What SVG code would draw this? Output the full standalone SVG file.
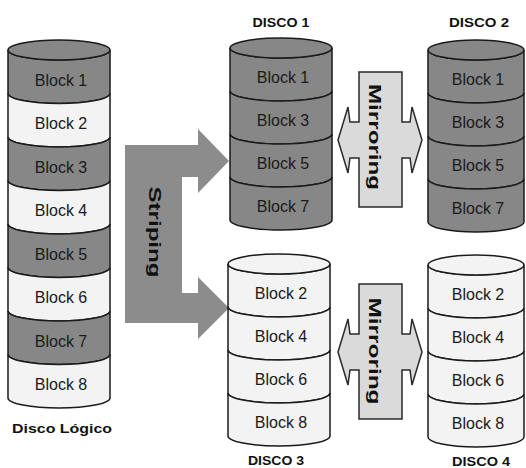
<svg xmlns="http://www.w3.org/2000/svg" width="526" height="468" viewBox="0 0 526 468">
<style>
.seg{stroke:#1a1a1a;stroke-width:1.5}
.dark{fill:#878787}
.light{fill:#f3f3f3}
.blk{font-family:"Liberation Sans",Arial,sans-serif;font-size:16px;fill:#1a1a1a;text-anchor:middle}
.lbl{font-family:"Liberation Sans",Arial,sans-serif;font-weight:bold;font-size:12.5px;fill:#111;text-anchor:middle}
.vt{font-family:"Liberation Sans",Arial,sans-serif;font-weight:bold;font-size:17px;fill:#111;text-anchor:middle}
.mir{fill:#dadada;stroke:#2a2a2a;stroke-width:1.5;stroke-linejoin:miter}
</style>
<rect width="526" height="468" fill="#ffffff"/>

<g id="connectors">
  <g id="striping">
    <path d="M125,145 H198 V129 L229,161 L198,193 V177 H182 V293 H198 V277 L229,308 L198,339 V323 H125 Z" fill="#8c8c8c"/>
    <text class="vt" transform="translate(155,232) rotate(90)" x="0" y="6" textLength="91" lengthAdjust="spacingAndGlyphs">Striping</text>
  </g>
  <g id="mirroring1">
    <path class="mir" d="M359,72 H402 V122 H410 L412,107 L422,140 L412,173 L410,158 H402 V207 H359 V158 H350 L348,173 L338,140 L348,107 L350,122 H359 Z"/>
    <text class="vt" transform="translate(375,137) rotate(90)" x="0" y="6" textLength="106" lengthAdjust="spacingAndGlyphs">Mirroring</text>
  </g>
  <g id="mirroring2">
    <path class="mir" d="M359,284 H402 V334 H410 L412,319 L422,352 L412,385 L410,370 H402 V419 H359 V370 H350 L348,385 L338,352 L348,319 L350,334 H359 Z"/>
    <text class="vt" transform="translate(375,351) rotate(90)" x="0" y="6" textLength="107" lengthAdjust="spacingAndGlyphs">Mirroring</text>
  </g>
</g>

<g id="disco-logico">
  <path class="seg dark" d="M8,50 A51,10 0 0 0 110,50 V93.5 A51,10 0 0 1 8,93.5 Z"/>
  <path class="seg light" d="M8,93.5 A51,10 0 0 0 110,93.5 V137 A51,10 0 0 1 8,137 Z"/>
  <path class="seg dark" d="M8,137 A51,10 0 0 0 110,137 V180.5 A51,10 0 0 1 8,180.5 Z"/>
  <path class="seg light" d="M8,180.5 A51,10 0 0 0 110,180.5 V224 A51,10 0 0 1 8,224 Z"/>
  <path class="seg dark" d="M8,224 A51,10 0 0 0 110,224 V267.5 A51,10 0 0 1 8,267.5 Z"/>
  <path class="seg light" d="M8,267.5 A51,10 0 0 0 110,267.5 V311 A51,10 0 0 1 8,311 Z"/>
  <path class="seg dark" d="M8,311 A51,10 0 0 0 110,311 V354.5 A51,10 0 0 1 8,354.5 Z"/>
  <path class="seg light" d="M8,354.5 A51,10 0 0 0 110,354.5 V398 A51,10 0 0 1 8,398 Z"/>
  <ellipse class="seg dark" cx="59" cy="50" rx="51" ry="10"/>
  <text class="blk" x="61" y="85.5">Block 1</text>
  <text class="blk" x="61" y="129">Block 2</text>
  <text class="blk" x="61" y="172.5">Block 3</text>
  <text class="blk" x="61" y="216">Block 4</text>
  <text class="blk" x="61" y="259.5">Block 5</text>
  <text class="blk" x="61" y="303">Block 6</text>
  <text class="blk" x="61" y="346.5">Block 7</text>
  <text class="blk" x="61" y="390">Block 8</text>
  <text class="lbl" x="62" y="433" font-size="14" textLength="100" lengthAdjust="spacingAndGlyphs">Disco Lógico</text>
</g>

<g id="disco1">
  <text class="lbl" x="281" y="27" textLength="57" lengthAdjust="spacingAndGlyphs">DISCO 1</text>
  <path class="seg dark" d="M230,48 A51,10 0 0 0 332,48 V91 A51,10 0 0 1 230,91 Z"/>
  <path class="seg dark" d="M230,91 A51,10 0 0 0 332,91 V134 A51,10 0 0 1 230,134 Z"/>
  <path class="seg dark" d="M230,134 A51,10 0 0 0 332,134 V177 A51,10 0 0 1 230,177 Z"/>
  <path class="seg dark" d="M230,177 A51,10 0 0 0 332,177 V220 A51,10 0 0 1 230,220 Z"/>
  <ellipse class="seg dark" cx="281" cy="48" rx="51" ry="10"/>
  <text class="blk" x="283" y="83">Block 1</text>
  <text class="blk" x="283" y="126">Block 3</text>
  <text class="blk" x="283" y="169">Block 5</text>
  <text class="blk" x="283" y="212">Block 7</text>
</g>

<g id="disco2">
  <text class="lbl" x="479" y="27" textLength="60" lengthAdjust="spacingAndGlyphs">DISCO 2</text>
  <path class="seg dark" d="M428,50 A48,10 0 0 0 524,50 V93 A48,10 0 0 1 428,93 Z"/>
  <path class="seg dark" d="M428,93 A48,10 0 0 0 524,93 V136 A48,10 0 0 1 428,136 Z"/>
  <path class="seg dark" d="M428,136 A48,10 0 0 0 524,136 V179 A48,10 0 0 1 428,179 Z"/>
  <path class="seg dark" d="M428,179 A48,10 0 0 0 524,179 V222 A48,10 0 0 1 428,222 Z"/>
  <ellipse class="seg dark" cx="476" cy="50" rx="48" ry="10"/>
  <text class="blk" x="478" y="85">Block 1</text>
  <text class="blk" x="478" y="128">Block 3</text>
  <text class="blk" x="478" y="171">Block 5</text>
  <text class="blk" x="478" y="214">Block 7</text>
</g>

<g id="disco3">
  <path class="seg light" d="M228,264 A51,10 0 0 0 330,264 V307 A51,10 0 0 1 228,307 Z"/>
  <path class="seg light" d="M228,307 A51,10 0 0 0 330,307 V350 A51,10 0 0 1 228,350 Z"/>
  <path class="seg light" d="M228,350 A51,10 0 0 0 330,350 V393 A51,10 0 0 1 228,393 Z"/>
  <path class="seg light" d="M228,393 A51,10 0 0 0 330,393 V436 A51,10 0 0 1 228,436 Z"/>
  <ellipse class="seg light" cx="279" cy="264" rx="51" ry="10"/>
  <text class="blk" x="281" y="299">Block 2</text>
  <text class="blk" x="281" y="342">Block 4</text>
  <text class="blk" x="281" y="385">Block 6</text>
  <text class="blk" x="281" y="428">Block 8</text>
  <text class="lbl" x="276" y="465" textLength="56" lengthAdjust="spacingAndGlyphs">DISCO 3</text>
</g>

<g id="disco4">
  <path class="seg light" d="M428,265 A48,10 0 0 0 524,265 V308 A48,10 0 0 1 428,308 Z"/>
  <path class="seg light" d="M428,308 A48,10 0 0 0 524,308 V351 A48,10 0 0 1 428,351 Z"/>
  <path class="seg light" d="M428,351 A48,10 0 0 0 524,351 V394 A48,10 0 0 1 428,394 Z"/>
  <path class="seg light" d="M428,394 A48,10 0 0 0 524,394 V437 A48,10 0 0 1 428,437 Z"/>
  <ellipse class="seg light" cx="476" cy="265" rx="48" ry="10"/>
  <text class="blk" x="478" y="300">Block 2</text>
  <text class="blk" x="478" y="343">Block 4</text>
  <text class="blk" x="478" y="386">Block 6</text>
  <text class="blk" x="478" y="429">Block 8</text>
  <text class="lbl" x="481" y="466" textLength="58" lengthAdjust="spacingAndGlyphs">DISCO 4</text>
</g>
</svg>
